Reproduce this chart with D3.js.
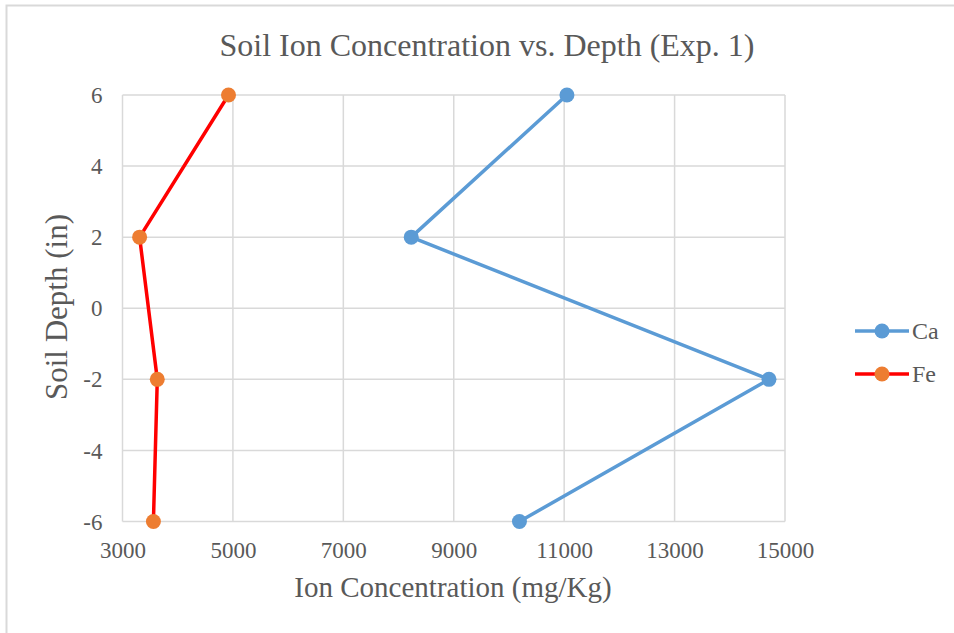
<!DOCTYPE html>
<html>
<head>
<meta charset="utf-8">
<script src="https://cdn.jsdelivr.net/npm/d3@7"></script>
<style>
  body { margin: 0; background: #fff; }
  text { font-family: "Liberation Serif", "Times New Roman", serif; fill: #595959; }
</style>
</head>
<body>
<svg id="chart" width="954" height="633"></svg>
<script>
var depths = [6, 2, -2, -6];
var caValues = [11050, 8230, 14710, 10190];
var feValues = [4920, 3310, 3630, 3560];
var xTicks = [3000, 5000, 7000, 9000, 11000, 13000, 15000];
var yTicks = [-6, -4, -2, 0, 2, 4, 6];
var seriesNames = ["Ca", "Fe"];
var lineColors = ["#5b9bd5", "#ff0000"];
var markerColors = ["#5b9bd5", "#ed7d31"];

var svg = d3.select("#chart");

// outer chart border (cropped on right/bottom)
svg.append("rect")
  .attr("x", 6.5).attr("y", 5.5)
  .attr("width", 1000).attr("height", 1000)
  .style("fill", "none").style("stroke", "#d9d9d9").style("stroke-width", 2);

var plotLeft = 122.5, plotRight = 785, plotTop = 95, plotBottom = 521.5;

var x = d3.scaleLinear().domain([3000, 15000]).range([plotLeft, plotRight]);
var y = d3.scaleLinear().domain([-6, 6]).range([plotBottom, plotTop]);

var grid = svg.append("g");
grid.selectAll("line.v").data(xTicks).enter().append("line")
  .attr("x1", function(d){ return x(d); })
  .attr("x2", function(d){ return x(d); })
  .attr("y1", plotTop).attr("y2", plotBottom)
  .style("stroke", "#d9d9d9").style("stroke-width", 1.5);
grid.selectAll("line.h").data(yTicks).enter().append("line")
  .attr("x1", plotLeft).attr("x2", plotRight)
  .attr("y1", function(d){ return y(d); })
  .attr("y2", function(d){ return y(d); })
  .style("stroke", "#d9d9d9").style("stroke-width", 1.5);

// axes (plain hyphen for negatives, like the original)
var fmt = function(d){ return String(d); };
var xAxis = svg.append("g")
  .attr("transform", "translate(0," + plotBottom + ")")
  .call(d3.axisBottom(x).tickValues(xTicks).tickSize(0).tickPadding(20).tickFormat(fmt));
var yAxis = svg.append("g")
  .attr("transform", "translate(" + plotLeft + ",0)")
  .call(d3.axisLeft(y).tickValues(yTicks).tickSize(0).tickPadding(20).tickFormat(fmt));
[xAxis, yAxis].forEach(function(a){
  a.attr("font-family", "Liberation Serif, serif").attr("font-size", 23);
  a.select(".domain").remove();
  a.selectAll("text").style("fill", "#595959");
});
yAxis.selectAll("text").attr("dy", "0.33em");
xAxis.selectAll("text").attr("dy", "0.71em");

// series
var allSeries = [caValues, feValues];
var line = d3.line()
  .x(function(d){ return x(d[0]); })
  .y(function(d){ return y(d[1]); });

allSeries.forEach(function(vals, i){
  var pts = vals.map(function(v, j){ return [v, depths[j]]; });
  svg.append("path")
    .attr("d", line(pts))
    .style("fill", "none")
    .style("stroke", lineColors[i])
    .style("stroke-width", 3.5)
    .style("stroke-linejoin", "round");
  svg.selectAll("circle.s" + i).data(pts).enter().append("circle")
    .attr("class", "s" + i)
    .attr("cx", function(d){ return x(d[0]); })
    .attr("cy", function(d){ return y(d[1]); })
    .attr("r", 7.5)
    .style("fill", markerColors[i]);
});

// legend
var legend = svg.append("g");
seriesNames.forEach(function(name, i){
  var ly = 331 + i * 43;
  legend.append("line")
    .attr("x1", 855).attr("x2", 909).attr("y1", ly).attr("y2", ly)
    .style("stroke", lineColors[i]).style("stroke-width", 3.5);
  legend.append("circle")
    .attr("cx", 882).attr("cy", ly).attr("r", 7.5)
    .style("fill", markerColors[i]);
  legend.append("text")
    .attr("x", 912).attr("y", ly).attr("dy", "0.33em")
    .style("font-size", "24px")
    .text(name);
});

// titles
svg.append("text")
  .attr("x", 487).attr("y", 56)
  .attr("text-anchor", "middle")
  .style("font-size", "32px")
  .text("Soil Ion Concentration vs. Depth (Exp. 1)");

svg.append("text")
  .attr("x", 453).attr("y", 597)
  .attr("text-anchor", "middle")
  .style("font-size", "29px")
  .text("Ion Concentration (mg/Kg)");

svg.append("text")
  .attr("transform", "translate(67,307)rotate(-90)")
  .attr("text-anchor", "middle")
  .style("font-size", "31px")
  .text("Soil Depth (in)");
</script>
</body>
</html>
